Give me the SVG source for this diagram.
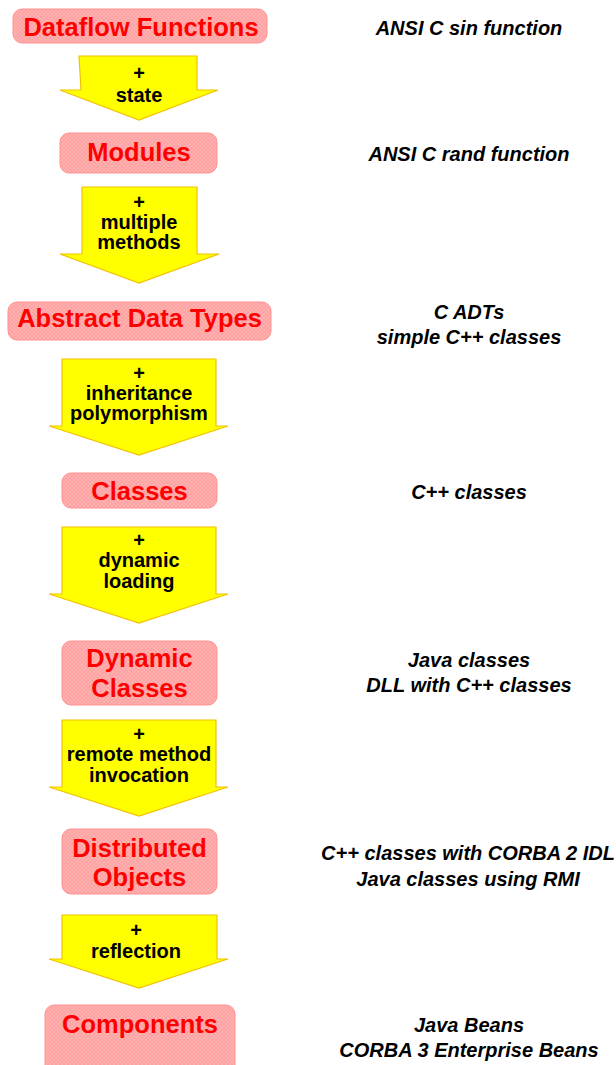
<svg xmlns="http://www.w3.org/2000/svg" width="616" height="1065" viewBox="0 0 616 1065">
<defs>
<pattern id="hatch" width="4" height="4" patternUnits="userSpaceOnUse">
<rect width="4" height="4" fill="#ffb2b2"/>
<path d="M0,0 L4,4 M4,0 L0,4" stroke="#ff9c9c" stroke-width="0.8"/>
</pattern>
<style>
.box{fill:url(#hatch);stroke:#ff9090;stroke-width:1}
.bt{font-family:"Liberation Sans",Arial,sans-serif;font-weight:bold;font-size:25.5px;fill:#ff0000;text-anchor:middle}
.arr{fill:#ffff00;stroke:#f2c200;stroke-width:1.2;stroke-linejoin:miter}
.at{font-family:"Liberation Sans",Arial,sans-serif;font-weight:bold;font-size:20px;fill:#000;text-anchor:middle}
.rt{font-family:"Liberation Sans",Arial,sans-serif;font-weight:bold;font-style:italic;font-size:20px;fill:#000;text-anchor:middle}
</style>
</defs>
<rect width="616" height="1065" fill="#fff"/>
<g id="connectors">
<g id="a1"><polygon class="arr" points="79,56 197,56 197,90 218,90 139,120 60,90 81,90"/>
<text class="at" x="139" y="80">+</text><text class="at" x="139" y="102">state</text></g>
<g id="a2"><polygon class="arr" points="82,187 197,187 197,254 219,254 139,283 60,254 82,254"/>
<text class="at" x="139" y="209">+</text><text class="at" x="139" y="229">multiple</text><text class="at" x="139" y="249">methods</text></g>
<g id="a3"><polygon class="arr" points="62,359 216,359 216,426 228,426 139,455 49,426 62,426"/>
<text class="at" x="139" y="380">+</text><text class="at" x="139" y="400">inheritance</text><text class="at" x="139" y="420">polymorphism</text></g>
<g id="a4"><polygon class="arr" points="62,527 216,527 216,594 228,594 139,623 49,594 62,594"/>
<text class="at" x="139" y="547">+</text><text class="at" x="139" y="567">dynamic</text><text class="at" x="139" y="588">loading</text></g>
<g id="a5"><polygon class="arr" points="62,720 216,720 216,787 228,787 139,816 49,787 62,787"/>
<text class="at" x="139" y="741">+</text><text class="at" x="139" y="761">remote method</text><text class="at" x="139" y="782">invocation</text></g>
<g id="a6"><polygon class="arr" points="62,915 217,915 217,959 228,959 139,988 49,959 62,959"/>
<text class="at" x="136" y="937">+</text><text class="at" x="136" y="958">reflection</text></g>
</g>
<g id="n1"><rect class="box" x="13" y="9" width="254" height="34" rx="9"/><text class="bt" x="141" y="36">Dataflow Functions</text></g>
<g id="n2"><rect class="box" x="60" y="133" width="157" height="40" rx="9"/><text class="bt" x="139" y="161">Modules</text></g>
<g id="n3"><rect class="box" x="8" y="302" width="263" height="38" rx="9"/><text class="bt" x="139.5" y="327">Abstract Data Types</text></g>
<g id="n4"><rect class="box" x="62" y="473" width="155" height="35" rx="9"/><text class="bt" x="139.5" y="500">Classes</text></g>
<g id="n5"><rect class="box" x="62" y="641" width="155" height="64" rx="9"/><text class="bt" x="139.5" y="667">Dynamic</text><text class="bt" x="139.5" y="697">Classes</text></g>
<g id="n6"><rect class="box" x="62" y="829" width="155" height="65" rx="9"/><text class="bt" x="139.5" y="857">Distributed</text><text class="bt" x="139.5" y="886">Objects</text></g>
<g id="n7"><rect class="box" x="45" y="1005" width="190" height="70" rx="9"/><text class="bt" x="140" y="1033">Components</text></g>
<g id="examples">
<text class="rt" x="469" y="35">ANSI C sin function</text>
<text class="rt" x="469" y="161">ANSI C rand function</text>
<text class="rt" x="469" y="319">C ADTs</text>
<text class="rt" x="469" y="344">simple C++ classes</text>
<text class="rt" x="469" y="499">C++ classes</text>
<text class="rt" x="469" y="667">Java classes</text>
<text class="rt" x="469" y="692">DLL with C++ classes</text>
<text class="rt" x="468" y="860">C++ classes with CORBA 2 IDL</text>
<text class="rt" x="468" y="886">Java classes using RMI</text>
<text class="rt" x="469" y="1032">Java Beans</text>
<text class="rt" x="469" y="1057">CORBA 3 Enterprise Beans</text>
</g>
</svg>
